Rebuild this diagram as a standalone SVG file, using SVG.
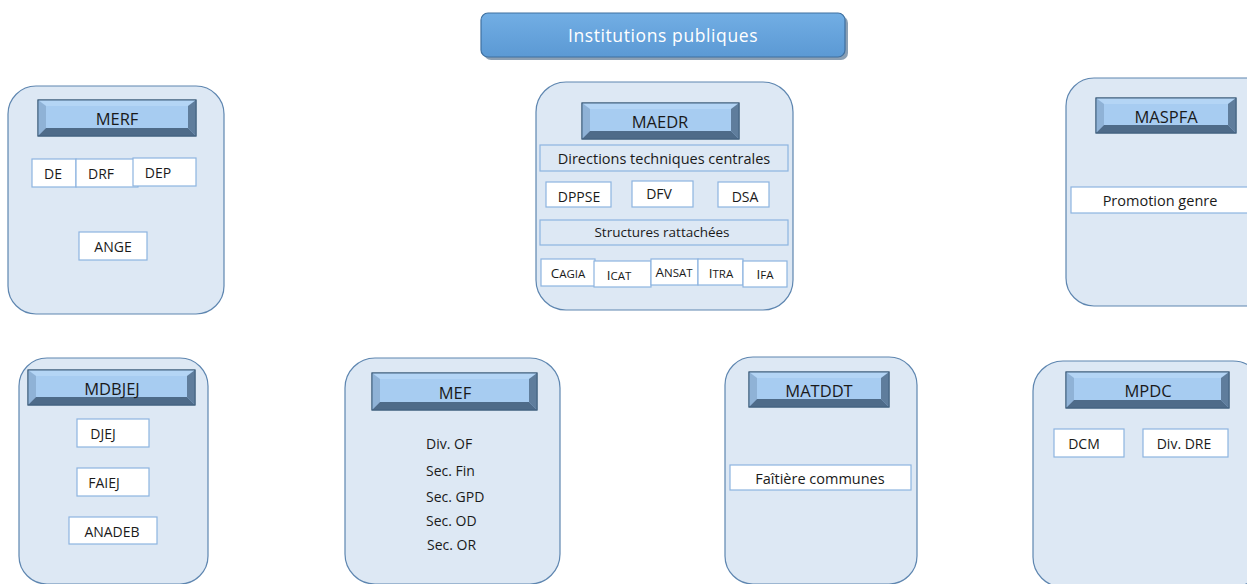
<svg xmlns="http://www.w3.org/2000/svg" width="1247" height="584" viewBox="0 0 1247 584">
<defs>
<linearGradient id="tg" x1="0" y1="0" x2="0" y2="1">
<stop offset="0" stop-color="#72AEE4"/>
<stop offset="1" stop-color="#5B99D4"/>
</linearGradient>
</defs>
<style>
text{font-family:"Open Sans","Noto Sans","DejaVu Sans",sans-serif;fill:#1a1a1a}
.c{text-anchor:middle;dominant-baseline:central}
.m{text-anchor:middle}
.cont{fill:#DDE8F4;stroke:#5E86B0;stroke-width:1.2}
.box{fill:#FFFFFF;stroke:#8DB4DF;stroke-width:1.2}
.hout{fill:#A8CDF2;stroke:#41607F;stroke-width:1}
.bt{fill:#B4D5F5}
.bl{fill:#8FB2D6}
.br{fill:#5F7D9C}
.bb{fill:#4E6B89}
.hface{fill:#A7CCF1}
.ht{font-size:16.5px}
.st{font-size:14px}
.sc1{font-size:13.5px}
.sc2{font-size:11.5px}
</style>
<rect width="1247" height="584" fill="#FFFFFF"/>

<g id="title">
<rect x="484" y="16" width="364" height="44" rx="7" fill="#3E5F80" opacity="0.6"/>
<rect x="481" y="13" width="364" height="44" rx="7" fill="url(#tg)" stroke="#3F70A0" stroke-width="1.2"/>
<text class="c" x="663" y="35" style="font-size:17.5px;fill:#FFFFFF;letter-spacing:0.6px">Institutions publiques</text>
</g>

<g id="connectors"/>

<g id="merf">
<rect class="cont" x="8" y="86" width="216" height="228" rx="28"/>
<g>
<rect class="hout" x="38" y="100" width="158" height="36"/>
<polygon class="bt" points="38,100 196,100 188,106 46,106"/>
<polygon class="bl" points="38,100 46,106 46,128 38,136"/>
<polygon class="br" points="196,100 196,136 188,128 188,106"/>
<polygon class="bb" points="38,136 46,128 188,128 196,136"/>
<rect class="hface" x="46" y="106" width="142" height="22"/>
<rect x="38" y="100" width="158" height="36" fill="none" stroke="#41607F"/>
<text class="c ht" x="117" y="118">MERF</text>
</g>
<rect class="box" x="32" y="159" width="44" height="28"/>
<text class="c st" x="53" y="173">DE</text>
<rect class="box" x="76" y="159" width="62" height="28"/>
<text class="c st" x="101" y="173">DRF</text>
<rect class="box" x="133" y="158" width="63" height="28"/>
<text class="c st" x="158" y="172">DEP</text>
<rect class="box" x="79" y="232" width="68" height="28"/>
<text class="c st" x="113" y="246">ANGE</text>
</g>

<g id="maedr">
<rect class="cont" x="536" y="82" width="257" height="228" rx="30"/>
<g>
<rect class="hout" x="582" y="103" width="157" height="36"/>
<polygon class="bt" points="582,103 739,103 731,109 590,109"/>
<polygon class="bl" points="582,103 590,109 590,131 582,139"/>
<polygon class="br" points="739,103 739,139 731,131 731,109"/>
<polygon class="bb" points="582,139 590,131 731,131 739,139"/>
<rect class="hface" x="590" y="109" width="141" height="22"/>
<rect x="582" y="103" width="157" height="36" fill="none" stroke="#41607F"/>
<text class="c ht" x="660" y="121">MAEDR</text>
</g>
<rect class="box" x="540" y="145" width="248" height="26" style="fill:#DDE8F4"/>
<text class="c" x="664" y="158" style="font-size:14.5px">Directions techniques centrales</text>
<rect class="box" x="546" y="182" width="65" height="25"/>
<text class="c st" x="579" y="196">DPPSE</text>
<rect class="box" x="632" y="181" width="61" height="26"/>
<text class="c st" x="659" y="193">DFV</text>
<rect class="box" x="718" y="182" width="51" height="25"/>
<text class="c st" x="745" y="196">DSA</text>
<rect class="box" x="540" y="220" width="248" height="25" style="fill:#DDE8F4"/>
<text class="c" x="662" y="232" style="font-size:13.5px">Structures rattachées</text>
<rect class="box" x="541" y="259" width="54" height="27"/>
<text class="m" x="568" y="278"><tspan class="sc1">C</tspan><tspan class="sc2">AGIA</tspan></text>
<rect class="box" x="594" y="261" width="57" height="26"/>
<text class="m" x="619" y="280"><tspan class="sc1">I</tspan><tspan class="sc2">CAT</tspan></text>
<rect class="box" x="651" y="259" width="47" height="26"/>
<text class="m" x="674" y="277"><tspan class="sc1">A</tspan><tspan class="sc2">NSAT</tspan></text>
<rect class="box" x="698" y="259" width="45" height="26"/>
<text class="m" x="721" y="278"><tspan class="sc1">I</tspan><tspan class="sc2">TRA</tspan></text>
<rect class="box" x="743" y="261" width="44" height="26"/>
<text class="m" x="765" y="279"><tspan class="sc1">I</tspan><tspan class="sc2">FA</tspan></text>
</g>

<g id="maspfa">
<rect class="cont" x="1066" y="78" width="210" height="228" rx="28"/>
<g>
<rect class="hout" x="1096" y="98" width="140" height="35"/>
<polygon class="bt" points="1096,98 1236,98 1228,104 1104,104"/>
<polygon class="bl" points="1096,98 1104,104 1104,125 1096,133"/>
<polygon class="br" points="1236,98 1236,133 1228,125 1228,104"/>
<polygon class="bb" points="1096,133 1104,125 1228,125 1236,133"/>
<rect class="hface" x="1104" y="104" width="124" height="21"/>
<rect x="1096" y="98" width="140" height="35" fill="none" stroke="#41607F"/>
<text class="c ht" x="1166" y="116">MASPFA</text>
</g>
<rect class="box" x="1071" y="187" width="180" height="26"/>
<text class="c" x="1160" y="200" style="font-size:14.5px">Promotion genre</text>
</g>

<g id="mdbjej">
<rect class="cont" x="19" y="358" width="189" height="226" rx="28"/>
<g>
<rect class="hout" x="28" y="370" width="167" height="35"/>
<polygon class="bt" points="28,370 195,370 187,376 36,376"/>
<polygon class="bl" points="28,370 36,376 36,397 28,405"/>
<polygon class="br" points="195,370 195,405 187,397 187,376"/>
<polygon class="bb" points="28,405 36,397 187,397 195,405"/>
<rect class="hface" x="36" y="376" width="151" height="21"/>
<rect x="28" y="370" width="167" height="35" fill="none" stroke="#41607F"/>
<text class="c ht" x="112" y="388">MDBJEJ</text>
</g>
<rect class="box" x="77" y="419" width="72" height="28"/>
<text class="c st" x="103" y="433">DJEJ</text>
<rect class="box" x="77" y="468" width="72" height="28"/>
<text class="c st" x="104" y="482">FAIEJ</text>
<rect class="box" x="69" y="517" width="88" height="27"/>
<text class="c st" x="112" y="531">ANADEB</text>
</g>

<g id="mef">
<rect class="cont" x="345" y="358" width="215" height="226" rx="30"/>
<g>
<rect class="hout" x="372" y="373" width="165" height="37"/>
<polygon class="bt" points="372,373 537,373 529,379 380,379"/>
<polygon class="bl" points="372,373 380,379 380,402 372,410"/>
<polygon class="br" points="537,373 537,410 529,402 529,379"/>
<polygon class="bb" points="372,410 380,402 529,402 537,410"/>
<rect class="hface" x="380" y="379" width="149" height="23"/>
<rect x="372" y="373" width="165" height="37" fill="none" stroke="#41607F"/>
<text class="c ht" x="455" y="392">MEF</text>
</g>
<text class="st" x="426" y="443" dominant-baseline="central">Div. OF</text>
<text class="st" x="426" y="470" dominant-baseline="central">Sec. Fin</text>
<text class="st" x="426" y="496" dominant-baseline="central">Sec. GPD</text>
<text class="st" x="426" y="520" dominant-baseline="central">Sec. OD</text>
<text class="st" x="427" y="544" dominant-baseline="central">Sec. OR</text>
</g>

<g id="matddt">
<rect class="cont" x="725" y="357" width="192" height="227" rx="28"/>
<g>
<rect class="hout" x="749" y="372" width="140" height="35"/>
<polygon class="bt" points="749,372 889,372 881,378 757,378"/>
<polygon class="bl" points="749,372 757,378 757,399 749,407"/>
<polygon class="br" points="889,372 889,407 881,399 881,378"/>
<polygon class="bb" points="749,407 757,399 881,399 889,407"/>
<rect class="hface" x="757" y="378" width="124" height="21"/>
<rect x="749" y="372" width="140" height="35" fill="none" stroke="#41607F"/>
<text class="c ht" x="819" y="390">MATDDT</text>
</g>
<rect class="box" x="730" y="465" width="181" height="25"/>
<text class="c" x="820" y="478" style="font-size:14.5px">Faîtière communes</text>
</g>

<g id="mpdc">
<rect class="cont" x="1033" y="361" width="230" height="226" rx="30"/>
<g>
<rect class="hout" x="1066" y="372" width="163" height="36"/>
<polygon class="bt" points="1066,372 1229,372 1221,378 1074,378"/>
<polygon class="bl" points="1066,372 1074,378 1074,400 1066,408"/>
<polygon class="br" points="1229,372 1229,408 1221,400 1221,378"/>
<polygon class="bb" points="1066,408 1074,400 1221,400 1229,408"/>
<rect class="hface" x="1074" y="378" width="147" height="22"/>
<rect x="1066" y="372" width="163" height="36" fill="none" stroke="#41607F"/>
<text class="c ht" x="1148" y="390">MPDC</text>
</g>
<rect class="box" x="1054" y="429" width="70" height="28"/>
<text class="c st" x="1084" y="443">DCM</text>
<rect class="box" x="1143" y="429" width="85" height="28"/>
<text class="c st" x="1184" y="443">Div. DRE</text>
</g>
</svg>
